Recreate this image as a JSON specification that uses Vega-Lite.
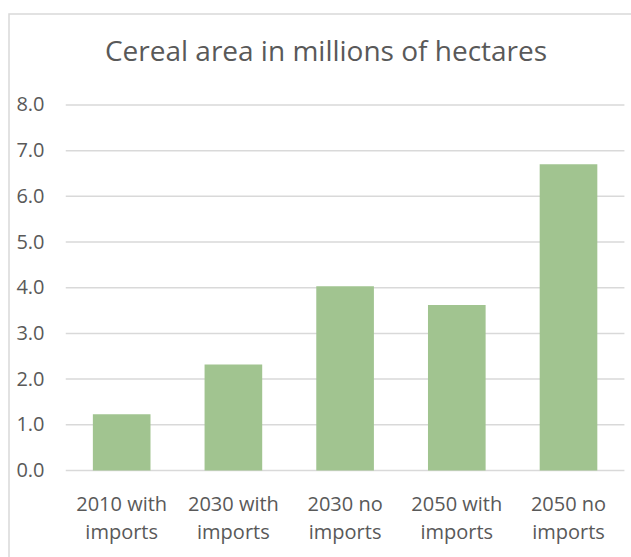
{
  "$schema": "https://vega.github.io/schema/vega-lite/v6.json",
  "width": 626,
  "height": 547,
  "autosize": {"type": "none"},
  "padding": {"left": 9, "top": 14, "right": -4, "bottom": -4},
  "background": "white",
  "title": {
    "text": "Cereal area in millions of hectares",
    "font": "Open Sans",
    "fontSize": 28,
    "fontWeight": "normal",
    "color": "#595959",
    "anchor": "middle",
    "baseline": "alphabetic",
    "offset": -75,
    "dx": 4
  },
  "datasets": {
    "area": [
      {"scenario": "2010 with imports", "hectares": 1.23},
      {"scenario": "2030 with imports", "hectares": 2.32},
      {"scenario": "2030 no imports", "hectares": 4.03},
      {"scenario": "2050 with imports", "hectares": 3.62},
      {"scenario": "2050 no imports", "hectares": 6.7}
    ],
    "gridValues": [
      {"v": 0}, {"v": 1}, {"v": 2}, {"v": 3}, {"v": 4},
      {"v": 5}, {"v": 6}, {"v": 7}, {"v": 8}
    ]
  },
  "layer": [
    {
      "data": {"name": "gridValues"},
      "mark": {"type": "rule", "color": "#d9d9d9", "strokeWidth": 1.5},
      "encoding": {
        "y": {"field": "v", "type": "quantitative"},
        "x": {"datum": "2010 with imports", "type": "nominal", "bandPosition": -0.47},
        "x2": {"datum": "2050 no imports", "bandPosition": 1.47}
      }
    },
    {
      "data": {"name": "area"},
      "mark": {"type": "bar", "color": "#a1c490"},
      "encoding": {
        "x": {
          "field": "scenario",
          "type": "nominal",
          "scale": {
            "domain": ["2010 with imports", "2030 with imports", "2030 no imports", "2050 with imports", "2050 no imports"],
            "paddingInner": 0.484,
            "paddingOuter": 0.544,
            "align": 0.69
          },
          "axis": {
            "title": null,
            "orient": "bottom",
            "offset": -90,
            "bandPosition": 0.5,
            "domain": false,
            "ticks": false,
            "labelAngle": 0,
            "labelAlign": "center",
            "labelPadding": 33,
            "labelFont": "Open Sans",
            "labelFontSize": 20,
            "labelColor": "#595959",
            "labelLineHeight": 28,
            "labelExpr": "[replace(datum.label, ' imports', ''), 'imports']"
          }
        },
        "y": {
          "field": "hectares",
          "type": "quantitative",
          "scale": {"domain": [-1.98, 9.99], "nice": false, "zero": false},
          "axis": {
            "title": null,
            "orient": "left",
            "offset": -58,
            "values": [0, 1, 2, 3, 4, 5, 6, 7, 8],
            "format": ".1f",
            "grid": false,
            "domain": false,
            "ticks": false,
            "labelPadding": 23,
            "labelFont": "Open Sans",
            "labelFontSize": 20,
            "labelColor": "#595959"
          }
        }
      }
    }
  ],
  "config": {
    "view": {"stroke": "#d9d9d9", "strokeWidth": 1.5}
  }
}
